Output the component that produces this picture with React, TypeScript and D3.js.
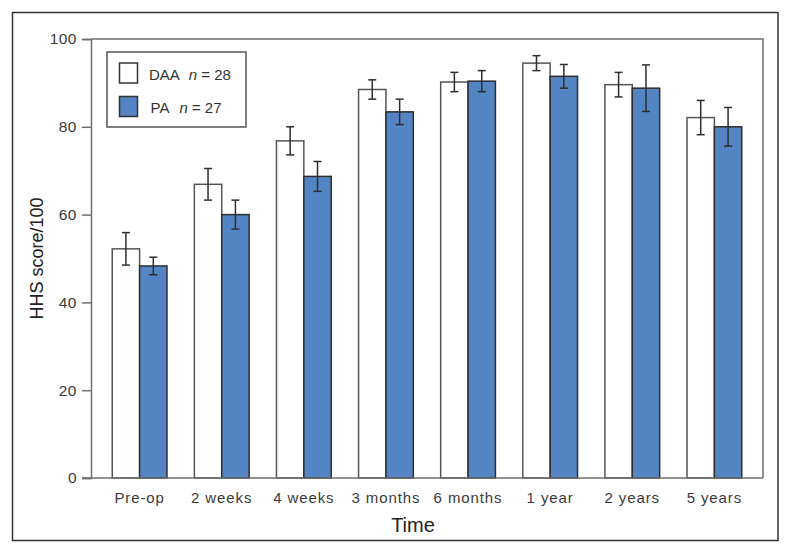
import React, { useEffect, useRef } from 'react';
import * as d3 from 'd3';

const categories = ['Pre-op', '2 weeks', '4 weeks', '3 months', '6 months', '1 year', '2 years', '5 years'];
const groups = ['DAA', 'PA'];
const daaMean = [52.2, 66.9, 76.8, 88.5, 90.2, 94.5, 89.6, 82.1];
const daaErr = [3.7, 3.6, 3.2, 2.2, 2.2, 1.7, 2.8, 3.9];
const paMean = [48.3, 60.0, 68.7, 83.4, 90.4, 91.5, 88.8, 80.0];
const paErr = [2.0, 3.3, 3.4, 2.9, 2.4, 2.7, 5.3, 4.4];
const yTicks = [0, 20, 40, 60, 80, 100];
const legendItems = [
  { name: 'DAA', n: 28 },
  { name: 'PA', n: 27 },
];

const FONT = '"Liberation Sans", Arial, sans-serif';
const BLUE = '#5384c3';

export default function App() {
  const ref = useRef<SVGSVGElement>(null);

  useEffect(() => {
    const svg = d3.select(ref.current);
    svg.selectAll('*').remove();

    const left = 91, right = 763, top = 39, bottom = 478;

    /* scales */
    const x0 = d3.scaleBand().domain(categories).range([left, right]).paddingInner(0).paddingOuter(0.092);
    const x1 = d3.scaleBand().domain(groups).range([0, x0.bandwidth()]).paddingInner(0).paddingOuter(0.5);
    const y = d3.scaleLinear().domain([0, 100]).range([bottom, top]);

    // outer frame
    svg.append('rect')
      .attr('x', 12.5).attr('y', 12.5).attr('width', 765.5).attr('height', 528)
      .attr('fill', 'none').attr('stroke', '#333').attr('stroke-width', 1.5);

    const rows = categories.map((c, i) => [
      { cat: c, g: 'DAA', v: daaMean[i], e: daaErr[i] },
      { cat: c, g: 'PA', v: paMean[i], e: paErr[i] },
    ]).flat();

    /* bars */
    svg.append('g').selectAll('rect').data(rows).enter().append('rect')
      .attr('x', d => x0(d.cat)! + x1(d.g)!)
      .attr('y', d => y(d.v))
      .attr('width', x1.bandwidth())
      .attr('height', d => y(0) - y(d.v))
      .attr('fill', d => d.g === 'DAA' ? '#fff' : BLUE)
      .attr('stroke', d => d.g === 'DAA' ? '#555' : '#2e2e2e')
      .attr('stroke-width', 1.5);

    /* error bars */
    const eb = svg.append('g').attr('stroke', '#2e2e2e').attr('stroke-width', 1.5);
    rows.forEach(d => {
      const cx = x0(d.cat)! + x1(d.g)! + x1.bandwidth() / 2;
      eb.append('line').attr('x1', cx).attr('x2', cx).attr('y1', y(d.v + d.e)).attr('y2', y(d.v - d.e));
      eb.append('line').attr('x1', cx - 4).attr('x2', cx + 4).attr('y1', y(d.v + d.e)).attr('y2', y(d.v + d.e));
      eb.append('line').attr('x1', cx - 4).attr('x2', cx + 4).attr('y1', y(d.v - d.e)).attr('y2', y(d.v - d.e));
    });

    // plot box (top + right)
    svg.append('path')
      .attr('d', `M${left},${top}H${right}V${bottom}`)
      .attr('fill', 'none').attr('stroke', '#6e6e6e').attr('stroke-width', 1.5);

    /* axes */
    const yAxis = d3.axisLeft(y).tickValues(yTicks).tickSize(9).tickPadding(5);
    const gy = svg.append('g').attr('transform', `translate(${left},0)`).call(yAxis);
    gy.select('.domain').attr('stroke', '#6e6e6e').attr('stroke-width', 1.5);
    gy.selectAll('.tick line').attr('stroke', '#6e6e6e').attr('stroke-width', 1.5);
    gy.selectAll('.tick text').attr('font-family', FONT).attr('font-size', 15.5).attr('fill', '#3a3a3a')
      .attr('letter-spacing', 0.5);

    const xAxis = d3.axisBottom(x0).tickSize(0).tickPadding(14);
    const gx = svg.append('g').attr('transform', `translate(0,${bottom})`).call(xAxis);
    gx.select('.domain').attr('stroke', '#6e6e6e').attr('stroke-width', 1.5).attr('d', `M${left - 9},0H${right}`);
    gx.selectAll('.tick text').attr('font-family', FONT).attr('font-size', 15).attr('fill', '#3a3a3a')
      .attr('letter-spacing', 0.9);

    /* axis titles */
    svg.append('text')
      .attr('transform', `translate(43,${(top + bottom) / 2}) rotate(-90)`)
      .attr('text-anchor', 'middle')
      .attr('font-family', FONT).attr('font-size', 18).attr('fill', '#222')
      .text('HHS score/100');

    svg.append('text')
      .attr('x', 413).attr('y', 532)
      .attr('text-anchor', 'middle')
      .attr('font-family', FONT).attr('font-size', 20).attr('fill', '#222')
      .text('Time');

    /* legend */
    const lg = svg.append('g');
    lg.append('rect').attr('x', 107).attr('y', 52).attr('width', 139).attr('height', 75)
      .attr('fill', '#fff').attr('stroke', '#555').attr('stroke-width', 1.5);
    legendItems.forEach((it, i) => {
      const yy = 63 + i * 33.5;
      lg.append('rect').attr('x', 119.5).attr('y', yy).attr('width', 18).attr('height', 20)
        .attr('fill', i === 0 ? '#fff' : BLUE).attr('stroke', '#333').attr('stroke-width', 1.5);
      const t = lg.append('text').attr('x', 149 + i * 1.5).attr('y', yy + 16.5)
        .attr('font-family', FONT).attr('font-size', 15).attr('fill', '#333');
      t.append('tspan').text(it.name);
      t.append('tspan').attr('dx', i === 0 ? 9 : 10).attr('font-style', 'italic').text('n');
      t.append('tspan').text(` = ${it.n}`);
    });
  }, []);

  return (
    <svg ref={ref} width={791} height={554}
      style={{ position: 'absolute', left: 0, top: 0, background: '#fff' }} />
  );
}
